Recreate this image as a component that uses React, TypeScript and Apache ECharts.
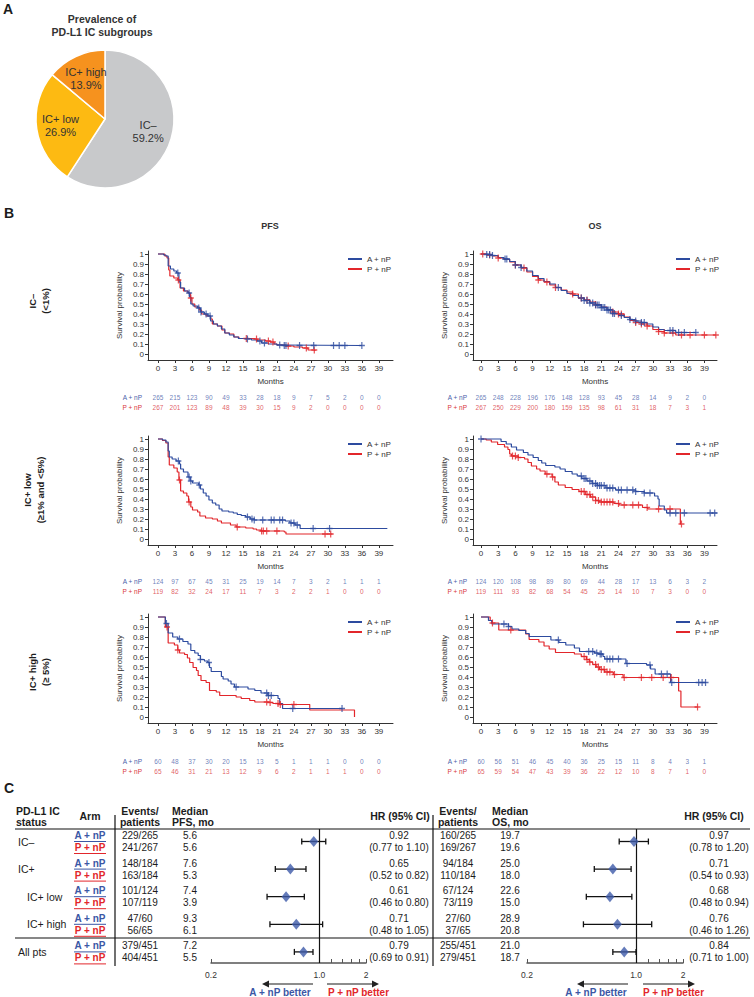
import React, { useEffect, useRef } from 'react';
import * as echarts from 'echarts';

const FONT = '"Liberation Sans", Arial, Helvetica, sans-serif';
const BLUE = '#2d4b9f';
const RED = '#e2262b';
const BLUE_T = '#4a60a9';
const RED_T = '#d8353b';
const INK = '#1c1c1c';

// ---------- Pie ----------
const pieNames = ['IC–', 'IC+ low', 'IC+ high'];
const pieValues = [59.2, 26.9, 13.9];
const pieColors = ['#c8c9cb', '#fdba12', '#f6921e'];

// ---------- KM shared ticks ----------
const MONTHS = [0, 3, 6, 9, 12, 15, 18, 21, 24, 27, 30, 33, 36, 39];
const SURV_TICKS = [0, 0.1, 0.2, 0.3, 0.4, 0.5, 0.6, 0.7, 0.8, 0.9, 1];

// ---------- PFS, IC– ----------
const pfsNegA = [[0,1],[1,0.99],[1.4,0.98],[1.8,0.88],[2.2,0.85],[2.8,0.83],[3.3,0.81],[3.7,0.72],[4.0,0.66],[4.7,0.63],[5.3,0.61],[5.6,0.57],[5.8,0.5],[6.2,0.48],[7.0,0.46],[7.5,0.42],[8.2,0.40],[8.8,0.38],[9.3,0.33],[9.8,0.30],[10.5,0.28],[11.2,0.25],[11.8,0.21],[12.6,0.19],[13.4,0.17],[14.2,0.155],[15.5,0.15],[16.5,0.14],[17.5,0.13],[18.3,0.11],[19.5,0.10],[21,0.09],[22,0.085],[36,0.085]];
const pfsNegP = [[0,1],[1.2,0.98],[1.6,0.96],[1.9,0.84],[2.1,0.78],[2.8,0.76],[3.5,0.74],[3.9,0.66],[4.5,0.63],[5.3,0.61],[5.7,0.56],[6.0,0.5],[6.5,0.47],[7.3,0.44],[7.7,0.40],[8.5,0.38],[9.3,0.35],[9.6,0.30],[10.5,0.28],[11.3,0.24],[11.8,0.21],[12.6,0.20],[13.4,0.17],[14.3,0.155],[16.5,0.15],[17.5,0.14],[19,0.13],[19.8,0.12],[20.5,0.10],[21,0.09],[22.5,0.08],[24,0.07],[25.5,0.06],[26.5,0.04],[27.7,0.03]];
const pfsNegCensA = [3.5,5.5,7.2,7.6,8.5,9.2,15.8,18.0,18.8,21.5,22.3,22.6,25,27.5,31,32,33,36];
const pfsNegCensP = [3.6,5.8,15.6,17.4,19.5,20.3,23,26.2,27.6];
const pfsNegRiskA = [265,215,123,90,49,33,28,18,9,7,5,2,0,0];
const pfsNegRiskP = [267,201,123,89,48,39,30,15,9,2,0,0,0,0];

// ---------- OS, IC– ----------
const osNegA = [[0,1],[1,0.995],[2,0.985],[3,0.965],[4,0.95],[5,0.925],[6,0.89],[7,0.865],[8,0.83],[9,0.785],[10,0.755],[11,0.725],[12,0.70],[13,0.665],[14,0.635],[15,0.605],[16,0.585],[17,0.56],[18,0.535],[19,0.51],[20,0.49],[21,0.465],[22,0.44],[23,0.405],[24,0.385],[25,0.365],[26,0.345],[27,0.33],[28,0.315],[29,0.30],[30,0.27],[31,0.245],[32,0.235],[34,0.215],[37.5,0.215]];
const osNegP = [[0,1],[1,0.99],[2,0.98],[3,0.96],[4,0.945],[5,0.92],[6,0.89],[7,0.86],[8,0.82],[9,0.775],[10,0.74],[11,0.72],[12,0.69],[13,0.665],[14,0.64],[15,0.62],[16,0.60],[17,0.56],[18,0.54],[19,0.52],[20,0.495],[21,0.47],[22,0.445],[23,0.42],[24,0.40],[25,0.37],[26,0.335],[27,0.315],[28,0.30],[29,0.28],[30,0.245],[31,0.225],[32,0.21],[34,0.19],[41,0.19]];
const osNegCensA = [1,1.5,2,4.2,4.5,6,7,13.5,17.5,18,18.5,19,19.5,20,20.3,20.6,21,21.3,21.6,22,22.3,22.6,23,23.3,24.5,26,27,28,28.5,33,33.5,34.5,35.5,37.5];
const osNegCensP = [0.3,1.5,3,6,7.5,10,11.5,13,16,17.5,18.5,20,23,24,24.5,27,28,29,31,32,33.5,35,36.5,39,41];
const osNegRiskA = [265,248,228,196,176,148,128,93,45,28,14,9,2,0];
const osNegRiskP = [267,250,229,200,180,159,135,98,61,31,18,7,3,1];

// ---------- PFS, IC+ low ----------
const pfsLowA = [[0,1],[0.8,0.99],[1.4,0.97],[1.8,0.88],[2.0,0.82],[2.5,0.80],[3.2,0.78],[3.8,0.75],[4.0,0.70],[4.5,0.67],[5.3,0.62],[5.7,0.58],[6.1,0.56],[7.2,0.54],[7.5,0.50],[8.0,0.46],[8.5,0.43],[9.0,0.39],[9.6,0.36],[10.2,0.34],[10.8,0.30],[11.3,0.28],[12.5,0.27],[13.3,0.26],[14,0.245],[14.7,0.235],[15.5,0.22],[16.3,0.20],[17,0.19],[22.5,0.18],[23.3,0.16],[24.2,0.14],[25.1,0.105],[40.5,0.105]];
const pfsLowP = [[0,1],[0.8,0.985],[1.4,0.96],[1.8,0.82],[2.0,0.74],[2.8,0.71],[3.4,0.67],[3.7,0.59],[4.0,0.48],[4.5,0.46],[5.1,0.43],[5.4,0.37],[5.8,0.32],[6.1,0.29],[7.0,0.27],[7.4,0.23],[8.4,0.21],[9.6,0.20],[10.5,0.18],[11.2,0.16],[12.8,0.14],[13.8,0.12],[15.5,0.11],[16.8,0.10],[17.4,0.09],[18.2,0.08],[22.3,0.07],[22.6,0.05],[30.8,0.05]];
const pfsLowCensA = [3.6,5.5,5.8,7.3,15.8,16.6,17.0,18.5,20,20.5,21.5,22,23.5,24,24.6,27.4,30.3];
const pfsLowCensP = [3.8,5.5,14,18.3,18.6,19.2,21,29.5,30.5];
const pfsLowRiskA = [124,97,67,45,31,25,19,14,7,3,2,1,1,1];
const pfsLowRiskP = [119,82,32,24,17,11,7,3,2,2,1,0,0,0];

// ---------- OS, IC+ low ----------
const osLowA = [[0,1],[3.5,0.975],[4.4,0.95],[5.3,0.92],[6.2,0.89],[7.4,0.865],[8.2,0.84],[9.1,0.815],[10,0.785],[10.6,0.76],[11.3,0.735],[12.9,0.72],[13.8,0.70],[14.7,0.675],[15.9,0.65],[16.8,0.63],[17.6,0.605],[18.5,0.58],[19.4,0.555],[20.3,0.535],[21.8,0.51],[23.5,0.49],[27,0.475],[28.5,0.46],[30.3,0.43],[30.9,0.40],[31.1,0.33],[32,0.29],[32.4,0.26],[41.2,0.26]];
const osLowP = [[0,1],[0.9,0.99],[1.8,0.97],[2.9,0.945],[4.1,0.92],[4.7,0.895],[5,0.85],[5.3,0.83],[6.5,0.815],[7.6,0.80],[8.2,0.765],[8.8,0.73],[9.7,0.70],[10.3,0.68],[11.2,0.65],[12.4,0.62],[12.9,0.57],[13.5,0.54],[14.7,0.515],[15.9,0.495],[17.1,0.475],[18.2,0.445],[19.1,0.42],[20,0.385],[20.6,0.37],[23.2,0.355],[24.1,0.34],[28.2,0.315],[29.1,0.30],[34.8,0.15],[35,0.15]];
const osLowCensA = [0,17.5,18,18.3,19,19.5,20,20.3,20.7,21,21.5,22,22.5,23,24,24.5,25.5,26.5,27,28.5,29.5,33,34,35.5,40,40.8];
const osLowCensP = [5.5,6,6.5,11.5,12.5,17.5,18,18.5,19,19.5,20,20.5,21,21.5,22,22.5,23,24,25,26.5,27.5,29,31,33,35];
const osLowRiskA = [124,120,108,98,89,80,69,44,28,17,13,6,3,2];
const osLowRiskP = [119,111,93,82,68,54,45,25,14,10,7,3,0,0];

// ---------- PFS, IC+ high ----------
const pfsHighA = [[0,1],[1.3,0.935],[1.8,0.84],[2.6,0.80],[3.5,0.78],[4.4,0.755],[5.3,0.73],[5.8,0.665],[6.5,0.64],[7.1,0.615],[7.5,0.575],[8.2,0.56],[8.8,0.545],[9.1,0.495],[9.4,0.455],[11.2,0.405],[11.5,0.38],[12.4,0.36],[12.9,0.33],[13.5,0.30],[15.9,0.28],[17.1,0.265],[18.2,0.24],[19.4,0.215],[21.2,0.185],[21.5,0.135],[22,0.085],[32.6,0.085]];
const pfsHighP = [[0,1],[1.3,0.90],[1.8,0.74],[2.9,0.72],[3.5,0.67],[3.8,0.64],[4.7,0.625],[5.2,0.59],[5.6,0.545],[6.2,0.495],[6.8,0.465],[7.1,0.415],[7.6,0.365],[8.5,0.345],[9.1,0.265],[10.3,0.25],[10.9,0.215],[13.8,0.20],[14.7,0.185],[16.2,0.165],[17.1,0.15],[19.4,0.145],[20.3,0.135],[21.5,0.125],[26.8,0.07],[34.7,0]];
const pfsHighCensA = [1.5,3.8,7.5,9,13.8,19.2,19.5,20,23.8,32.5];
const pfsHighCensP = [1.6,3.5,19.2,19.8,21.2,21.6,24];
const pfsHighRiskA = [60,48,37,30,20,15,13,5,1,1,1,0,0,0];
const pfsHighRiskP = [65,46,31,21,13,12,9,6,2,1,1,1,0,0];

// ---------- OS, IC+ high ----------
const osHighA = [[0,1],[1.3,0.965],[1.9,0.93],[4.8,0.905],[5.4,0.88],[6.6,0.865],[7.8,0.835],[8.4,0.805],[12.2,0.77],[13.6,0.745],[14.8,0.72],[16.3,0.69],[17.2,0.655],[19.8,0.64],[20.4,0.63],[21.3,0.605],[21.6,0.58],[25.3,0.535],[28.9,0.52],[29.6,0.48],[30.4,0.43],[33.1,0.345],[39.3,0.345]];
const osHighP = [[0,1],[1.6,0.965],[1.9,0.94],[3.1,0.87],[7.8,0.83],[8.4,0.775],[10.1,0.75],[11,0.71],[11.9,0.68],[13,0.645],[16.3,0.63],[17.5,0.605],[18.4,0.575],[18.9,0.55],[19.5,0.525],[20.1,0.50],[20.7,0.475],[21.6,0.45],[23.1,0.425],[24.8,0.395],[34.5,0.26],[34.9,0.10],[37.9,0.10]];
const osHighCensA = [4,4.8,13.5,18.8,19.5,20.2,20.8,21,22,22.5,23,24,25.5,29.5,31.5,32.5,33.3,38,38.6,39.2];
const osHighCensP = [2,5.2,18,18.5,19,20,20.5,21,21.5,22,22.5,23.3,25,28,29.8,31.8,33.2,37.8];
const osHighRiskA = [60,56,51,46,45,40,36,25,15,11,8,4,3,1];
const osHighRiskP = [65,59,54,47,43,39,36,22,12,10,8,7,1,0];

// ---------- Forest ----------
const groups = ['IC–', 'IC+', 'IC+ low', 'IC+ high', 'All pts'];
const pfsEventsA = ['229/265', '148/184', '101/124', '47/60', '379/451'];
const pfsEventsP = ['241/267', '163/184', '107/119', '56/65', '404/451'];
const pfsMedianA = [5.6, 7.6, 7.4, 9.3, 7.2];
const pfsMedianP = [5.6, 5.3, 3.9, 6.1, 5.5];
const pfsHR = [0.92, 0.65, 0.61, 0.71, 0.79];
const pfsLo = [0.77, 0.52, 0.46, 0.48, 0.69];
const pfsHi = [1.10, 0.82, 0.80, 1.05, 0.91];
const osEventsA = ['160/265', '94/184', '67/124', '27/60', '255/451'];
const osEventsP = ['169/267', '110/184', '73/119', '37/65', '279/451'];
const osMedianA = [19.7, 25.0, 22.6, 28.9, 21.0];
const osMedianP = [19.6, 18.0, 15.0, 20.8, 18.7];
const osHR = [0.97, 0.71, 0.68, 0.76, 0.84];
const osLo = [0.78, 0.54, 0.48, 0.46, 0.71];
const osHi = [1.20, 0.93, 0.94, 1.26, 1.00];
const hrLabelTicks = [0.2, 1, 2];
const hrMinorTicks = [0.2, 1, 1.2, 1.4, 1.6, 1.8, 2];

// ---------- layout ----------
const COL_LEFT = [148, 473];
const COL_WIDTH = [245, 244];
const COL_MIN = [-1.76, -1.4];
const COL_MAX = [41.5, 41.2];
const ROW_TOP = [251, 436, 614];
const RISK_Y = [397, 581, 761];
const LEGEND_X = [343, 671];

const survAt = (curve: number[][], t: number) => {
  let s = curve[0][1];
  for (const [tt, ss] of curve) { if (tt <= t) s = ss; else break; }
  return s;
};

const PLUS = 'path://M4,0h2v4h4v2h-4v4h-2v-4h-4v-2h4z';

function txt(text: string, x: number, y: number, o: any = {}) {
  const align = o.align || 'left';
  const va = o.va || 'middle';
  return {
    type: 'text', x, y, rotation: o.rotation || 0, silent: true,
    style: {
      text, fill: o.color || INK, fontSize: o.size || 10, fontWeight: o.bold ? 'bold' : 'normal',
      fontFamily: FONT, align, verticalAlign: va, textAlign: align, textVerticalAlign: va,
      lineHeight: o.lh || undefined,
    },
  };
}
function ln(x1: number, y1: number, x2: number, y2: number, color = '#111', w = 1.2) {
  return { type: 'line', silent: true, shape: { x1, y1, x2, y2 }, style: { stroke: color, lineWidth: w } };
}

export default function App() {
  const ref = useRef<HTMLDivElement>(null);
  useEffect(() => {
    document.body.style.margin = '0';
    const chart = echarts.init(ref.current!, undefined, { renderer: 'svg' });

    const panels = [
      { a: pfsNegA, p: pfsNegP, ca: pfsNegCensA, cp: pfsNegCensP, ra: pfsNegRiskA, rp: pfsNegRiskP, col: 0, row: 0 },
      { a: osNegA, p: osNegP, ca: osNegCensA, cp: osNegCensP, ra: osNegRiskA, rp: osNegRiskP, col: 1, row: 0 },
      { a: pfsLowA, p: pfsLowP, ca: pfsLowCensA, cp: pfsLowCensP, ra: pfsLowRiskA, rp: pfsLowRiskP, col: 0, row: 1 },
      { a: osLowA, p: osLowP, ca: osLowCensA, cp: osLowCensP, ra: osLowRiskA, rp: osLowRiskP, col: 1, row: 1 },
      { a: pfsHighA, p: pfsHighP, ca: pfsHighCensA, cp: pfsHighCensP, ra: pfsHighRiskA, rp: pfsHighRiskP, col: 0, row: 2 },
      { a: osHighA, p: osHighP, ca: osHighCensA, cp: osHighCensP, ra: osHighRiskA, rp: osHighRiskP, col: 1, row: 2 },
    ];

    const grids: any[] = [], xAxes: any[] = [], yAxes: any[] = [], series: any[] = [], legends: any[] = [];
    const axText = { fontSize: 8, color: '#333', fontFamily: FONT };

    panels.forEach((pn) => {
      const L = COL_LEFT[pn.col], W = COL_WIDTH[pn.col], T = ROW_TOP[pn.row];
      const gi = grids.length;
      grids.push({ left: L, top: T, width: W, height: 109 });
      xAxes.push({
        gridIndex: gi, type: 'value', min: COL_MIN[pn.col], max: COL_MAX[pn.col],
        name: 'Months', nameLocation: 'middle', nameGap: 17, nameTextStyle: axText,
        axisLine: { show: true, onZero: false, lineStyle: { color: '#333', width: 1 } },
        axisTick: { show: true, customValues: MONTHS, length: 3, lineStyle: { color: '#333' } },
        axisLabel: { customValues: MONTHS, margin: 4, ...axText },
        splitLine: { show: false },
      });
      yAxes.push({
        gridIndex: gi, type: 'value', min: -0.06, max: 1.03,
        name: 'Survival probability', nameLocation: 'middle', nameGap: 25, nameTextStyle: axText,
        axisLine: { show: true, onZero: false, lineStyle: { color: '#333', width: 1 } },
        axisTick: { show: true, customValues: SURV_TICKS, length: 3, lineStyle: { color: '#333' } },
        axisLabel: {
          customValues: SURV_TICKS, margin: 4, ...axText,
          formatter: (v: number) => (Math.abs(v - 1) < 1e-6 ? '1' : Math.abs(v) < 1e-6 ? '0' : v.toFixed(1)),
        },
        splitLine: { show: false },
      });
      series.push({ type: 'line', name: 'A + nP', xAxisIndex: gi, yAxisIndex: gi, data: pn.a, step: 'end', symbol: 'none', showSymbol: false, color: BLUE, lineStyle: { width: 1.2, color: BLUE }, silent: true, z: 3 });
      series.push({ type: 'line', name: 'P + nP', xAxisIndex: gi, yAxisIndex: gi, data: pn.p, step: 'end', symbol: 'none', showSymbol: false, color: RED, lineStyle: { width: 1.2, color: RED }, silent: true, z: 2 });
      series.push({ type: 'scatter', name: 'censA', xAxisIndex: gi, yAxisIndex: gi, data: pn.ca.map((t) => [t, survAt(pn.a, t)]), symbol: PLUS, symbolSize: [6, 7], itemStyle: { color: BLUE }, silent: true, z: 4 });
      series.push({ type: 'scatter', name: 'censP', xAxisIndex: gi, yAxisIndex: gi, data: pn.cp.map((t) => [t, survAt(pn.p, t)]), symbol: PLUS, symbolSize: [6, 7], itemStyle: { color: RED }, silent: true, z: 3 });
      legends.push({
        orient: 'vertical', left: LEGEND_X[pn.col], top: T - 1, itemWidth: 14, itemHeight: 2, itemGap: 2,
        icon: 'rect', selectedMode: false, data: ['A + nP', 'P + nP'],
        textStyle: { fontSize: 8, color: '#333', fontFamily: FONT, padding: [0, 0, 0, 0] },
      });
      // risk table
      const ri = grids.length;
      grids.push({ left: L, top: RISK_Y[pn.row] - 5, width: W, height: 20 });
      xAxes.push({ gridIndex: ri, type: 'value', min: COL_MIN[pn.col], max: COL_MAX[pn.col], show: false });
      yAxes.push({
        gridIndex: ri, type: 'category', data: ['A + nP', 'P + nP'], inverse: true,
        axisLine: { show: false }, axisTick: { show: false }, splitLine: { show: false },
        axisLabel: { fontSize: 6.5, margin: 6, fontFamily: FONT, color: (v: string) => (v === 'A + nP' ? BLUE_T : RED_T) },
      });
      [pn.ra, pn.rp].forEach((arr, k) => {
        series.push({
          type: 'scatter', xAxisIndex: ri, yAxisIndex: ri, symbolSize: 1, silent: true,
          itemStyle: { color: 'rgba(0,0,0,0)' },
          data: MONTHS.map((m, i) => [m, k, arr[i]]),
          label: { show: true, position: 'inside', formatter: (p: any) => String(p.value[2]), fontSize: 6.5, fontFamily: FONT, color: k === 0 ? BLUE_T : RED_T },
        });
      });
    });

    // forest grids
    const FOREST = [
      { left: 211, width: 155, hr: pfsHR, lo: pfsLo, hi: pfsHi },
      { left: 527, width: 156, hr: osHR, lo: osLo, hi: osHi },
    ];
    const ROW0 = 841.5, ROWSTEP = 27.6;
    const L10 = Math.log10;
    FOREST.forEach((f) => {
      const gi = grids.length;
      grids.push({ left: f.left, width: f.width, top: 829, height: 134 });
      xAxes.push({
        gridIndex: gi, type: 'value', min: L10(0.2), max: L10(2),
        axisLine: { show: true, onZero: false, lineStyle: { color: '#555', width: 1.5 } },
        axisTick: { show: true, inside: true, length: 4, customValues: hrMinorTicks.map(L10), lineStyle: { color: '#555', width: 1 } },
        axisLabel: {
          customValues: hrLabelTicks.map(L10), margin: 7, fontSize: 8.5, color: '#333', fontFamily: FONT,
          formatter: (v: number) => { const x = Math.pow(10, v); return Math.abs(x - 1) < 1e-6 ? '1.0' : String(+x.toFixed(1)); },
        },
        splitLine: { show: false },
      });
      yAxes.push({ gridIndex: gi, type: 'value', min: -(ROW0 - 829) / ROWSTEP, max: (963 - ROW0) / ROWSTEP, inverse: true, show: false });
      series.push({
        type: 'custom', xAxisIndex: gi, yAxisIndex: gi, silent: true,
        data: f.hr.map((_, i) => [L10(f.lo[i]), L10(f.hi[i]), i]),
        encode: { x: [0, 1], y: 2 },
        renderItem: (params: any, api: any) => {
          const y = api.value(2);
          const p1 = api.coord([api.value(0), y]);
          const p2 = api.coord([api.value(1), y]);
          const st = { stroke: '#111', lineWidth: 1.3 };
          return {
            type: 'group', children: [
              { type: 'line', shape: { x1: p1[0], y1: p1[1], x2: p2[0], y2: p2[1] }, style: st },
              { type: 'line', shape: { x1: p1[0], y1: p1[1] - 3, x2: p1[0], y2: p1[1] + 3 }, style: st },
              { type: 'line', shape: { x1: p2[0], y1: p2[1] - 3, x2: p2[0], y2: p2[1] + 3 }, style: st },
            ],
          };
        },
      });
      series.push({
        type: 'scatter', xAxisIndex: gi, yAxisIndex: gi, silent: true, symbol: 'diamond', symbolSize: [9, 11],
        itemStyle: { color: '#3d5aa9' }, data: f.hr.map((h, i) => [L10(h), i]), z: 5,
        markLine: { silent: true, symbol: ['none', 'none'], label: { show: false }, lineStyle: { color: '#111', width: 1.2, type: 'solid' }, data: [{ xAxis: 0 }] },
      });
    });

    // graphics
    const g: any[] = [];
    g.push(txt('A', 3, 9, { size: 14, bold: true }));
    g.push(txt('Prevalence of\nPD-L1 IC subgroups', 102, 25.5, { size: 10.5, bold: true, align: 'center', lh: 13, color: '#333' }));
    g.push(txt('B', 4, 213, { size: 14, bold: true }));
    g.push(txt('PFS', 270, 226, { size: 9, bold: true, align: 'center', color: '#333' }));
    g.push(txt('OS', 595, 226, { size: 9, bold: true, align: 'center', color: '#333' }));
    g.push(txt('IC–\n(<1%)', 38.5, 301, { size: 9.5, bold: true, align: 'center', lh: 13, rotation: Math.PI / 2 }));
    g.push(txt('IC+ low\n(≥1% and <5%)', 33.5, 490, { size: 9.5, bold: true, align: 'center', lh: 13, rotation: Math.PI / 2 }));
    g.push(txt('IC+ high\n(≥ 5%)', 38.5, 672, { size: 9.5, bold: true, align: 'center', lh: 13, rotation: Math.PI / 2 }));
    g.push(txt('C', 4, 788, { size: 14, bold: true }));

    // forest table header
    g.push(txt('PD-L1 IC\nstatus', 16, 816.5, { size: 10.5, bold: true, lh: 11 }));
    g.push(txt('Arm', 90, 816, { size: 10.5, bold: true, align: 'center' }));
    g.push(txt('Events/\npatients', 140, 816.5, { size: 10.5, bold: true, align: 'center', lh: 11 }));
    g.push(txt('Median\nPFS, mo', 172, 816.5, { size: 10.5, bold: true, lh: 11 }));
    g.push(txt('HR (95% CI)', 400, 816, { size: 10.5, bold: true, align: 'center' }));
    g.push(txt('Events/\npatients', 458, 816.5, { size: 10.5, bold: true, align: 'center', lh: 11 }));
    g.push(txt('Median\nOS, mo', 492, 816.5, { size: 10.5, bold: true, lh: 11 }));
    g.push(txt('HR (95% CI)', 714, 816, { size: 10.5, bold: true, align: 'center' }));
    g.push(ln(15, 829, 750, 829));
    g.push(ln(15, 938, 750, 938));
    g.push(ln(115, 815, 115, 966));
    g.push(ln(433, 815, 433, 966));

    groups.forEach((name, i) => {
      const yA = ROW0 - 6 + ROWSTEP * i, yP = yA + 12, yM = yA + 6;
      const indent = name === 'IC+ low' || name === 'IC+ high' ? 27 : 18;
      g.push(txt(name, indent, yM, { size: 10.5 }));
      g.push(txt('A + nP', 90, yA, { size: 10, bold: true, align: 'center', color: '#3b57a5' }));
      g.push(ln(74, yA + 6, 106, yA + 6, '#3b57a5', 1));
      g.push(txt('P + nP', 90, yP, { size: 10, bold: true, align: 'center', color: RED }));
      g.push(ln(74, yP + 6, 106, yP + 6, RED, 1));
      g.push(txt(pfsEventsA[i], 140, yA, { align: 'center' }));
      g.push(txt(pfsEventsP[i], 140, yP, { align: 'center' }));
      g.push(txt(pfsMedianA[i].toFixed(1), 190, yA, { align: 'center' }));
      g.push(txt(pfsMedianP[i].toFixed(1), 190, yP, { align: 'center' }));
      g.push(txt(pfsHR[i].toFixed(2), 399, yA, { align: 'center' }));
      g.push(txt(`(${pfsLo[i].toFixed(2)} to ${pfsHi[i].toFixed(2)})`, 399, yP, { align: 'center' }));
      g.push(txt(osEventsA[i], 458, yA, { align: 'center' }));
      g.push(txt(osEventsP[i], 458, yP, { align: 'center' }));
      g.push(txt(osMedianA[i].toFixed(1), 510, yA, { align: 'center' }));
      g.push(txt(osMedianP[i].toFixed(1), 510, yP, { align: 'center' }));
      g.push(txt(osHR[i].toFixed(2), 719, yA, { align: 'center' }));
      g.push(txt(`(${osLo[i].toFixed(2)} to ${osHi[i].toFixed(2)})`, 719, yP, { align: 'center' }));
    });

    // arrows
    const arrow = (xFrom: number, xTo: number, y: number) => {
      const dir = xTo > xFrom ? 1 : -1;
      g.push(ln(xFrom, y, xTo - dir * 5, y, '#8c8c8c', 2));
      g.push({ type: 'polygon', silent: true, shape: { points: [[xTo, y], [xTo - dir * 7, y - 3.5], [xTo - dir * 7, y + 3.5]] }, style: { fill: '#222' } });
    };
    arrow(313, 262, 984); arrow(327, 379, 984);
    arrow(628, 577, 984); arrow(643, 695, 984);
    g.push(txt('A + nP better', 280, 992, { size: 10, bold: true, align: 'center', color: '#3b57a5' }));
    g.push(txt('P + nP better', 328, 992, { size: 10, bold: true, color: RED }));
    g.push(txt('A + nP better', 596, 992, { size: 10, bold: true, align: 'center', color: '#3b57a5' }));
    g.push(txt('P + nP better', 643, 992, { size: 10, bold: true, color: RED }));

    const pieData = pieNames.map((n, i) => ({ name: n, value: pieValues[i], itemStyle: { color: pieColors[i] } }));
    series.push({
      type: 'pie', center: [105, 119], radius: 69, startAngle: 90, clockwise: true, silent: true,
      itemStyle: { borderColor: '#fff', borderWidth: 1.5 }, label: { show: false }, labelLine: { show: false },
      data: pieData,
    });
    series.push({
      type: 'pie', center: [105, 119], radius: 84, startAngle: 90, clockwise: true, silent: true,
      itemStyle: { color: 'rgba(0,0,0,0)', borderWidth: 0 }, labelLine: { show: false },
      label: { show: true, position: 'inside', formatter: (p: any) => `${p.name}\n${p.value.toFixed(1)}%`, fontSize: 11, lineHeight: 13, color: '#333', fontFamily: FONT },
      data: pieNames.map((n, i) => ({ name: n, value: pieValues[i] })),
    });

    chart.setOption({
      animation: false,
      textStyle: { fontFamily: FONT },
      grid: grids, xAxis: xAxes, yAxis: yAxes, series, legend: legends, graphic: g,
    });
    return () => chart.dispose();
  }, []);
  return <div ref={ref} style={{ width: 754, height: 997 }} />;
}
